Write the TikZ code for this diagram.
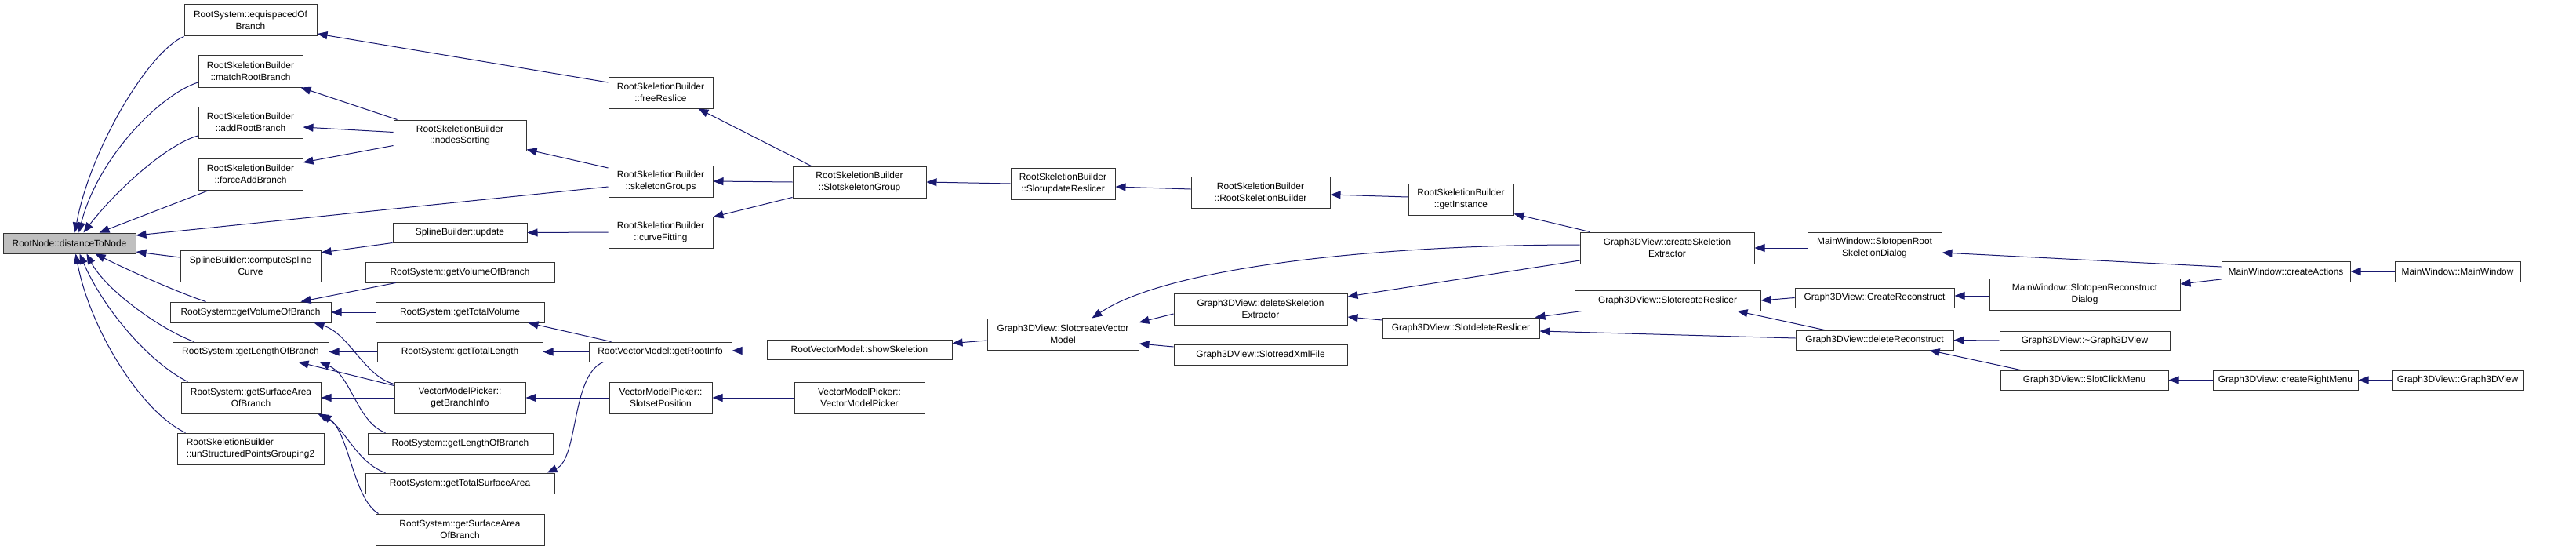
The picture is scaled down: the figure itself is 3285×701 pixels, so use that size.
\documentclass[tikz,border=0pt]{standalone}
\usepackage{fontspec}
\setmainfont{Liberation Sans}
\usetikzlibrary{arrows.meta,calc}
\definecolor{edgeblue}{RGB}{25,25,112}
\definecolor{nodegray}{RGB}{191,191,191}
\tikzset{
  box/.style={draw=black!80, line width=1pt, fill=white, inner sep=0pt, align=center,
    font=\fontsize{11.9}{14.7}\selectfont},
  curbox/.style={box, fill=nodegray},
  lbox/.style={box, align=left},
  edge/.style={draw=edgeblue, line width=1pt, -{Triangle[length=13pt,width=10pt]}},
}
\newcommand{\nd}[7][box]{\node[#1, minimum width={(#5-#3)*1pt}, minimum height={(#6-#4)*1pt}] (#2) at ({(#3+#5)/2},{(#4+#6)/2}) {#7};}
\begin{document}
\begin{tikzpicture}[x=1pt,y=-1pt]
\useasboundingbox (0,0) rectangle (3285,701);
% nodes
\nd[curbox]{dtn}{4}{297}{173}{323}{RootNode::distanceToNode}
\nd{equi}{235}{6}{404}{46}{RootSystem::equispacedOf\\Branch}
\nd{match}{253}{71}{386}{111}{RootSkeletionBuilder\\::matchRootBranch}
\nd{addrb}{253}{136}{386}{176}{RootSkeletionBuilder\\::addRootBranch}
\nd{force}{253}{202}{386}{242}{RootSkeletionBuilder\\::forceAddBranch}
\nd{csc}{230}{319}{409}{359}{SplineBuilder::computeSpline\\Curve}
\nd{gvL}{217}{385}{422}{411}{RootSystem::getVolumeOfBranch}
\nd{glL}{220}{436}{419}{461}{RootSystem::getLengthOfBranch}
\nd{gsL}{231}{487}{409}{527}{RootSystem::getSurfaceArea\\OfBranch}
\nd[lbox]{unstr}{226}{552}{413}{592}{RootSkeletionBuilder\\::unStructuredPointsGrouping2}
\nd{nodes}{502}{153}{671}{192}{RootSkeletionBuilder\\::nodesSorting}
\nd{spup}{501}{284}{672}{309}{SplineBuilder::update}
\nd{gvR}{466}{334}{707}{360}{RootSystem::getVolumeOfBranch}
\nd{gtv}{479}{385}{694}{411}{RootSystem::getTotalVolume}
\nd{gtl}{481}{436}{692}{461}{RootSystem::getTotalLength}
\nd{gbi}{503}{487}{670}{527}{VectorModelPicker::\\getBranchInfo}
\nd{glR}{469}{552}{705}{579}{RootSystem::getLengthOfBranch}
\nd{gtsa}{466}{603}{707}{629}{RootSystem::getTotalSurfaceArea}
\nd{gsR}{479}{655}{694}{695}{RootSystem::getSurfaceArea\\OfBranch}
\nd{free}{776}{98}{909}{138}{RootSkeletionBuilder\\::freeReslice}
\nd{skg}{776}{211}{909}{251}{RootSkeletionBuilder\\::skeletonGroups}
\nd{cfit}{776}{276}{909}{316}{RootSkeletionBuilder\\::curveFitting}
\nd{gri}{751}{436}{933}{461}{RootVectorModel::getRootInfo}
\nd{ssp}{777}{487}{908}{527}{VectorModelPicker::\\SlotsetPosition}
\nd{ssg}{1011}{212}{1181}{252}{RootSkeletionBuilder\\::SlotskeletonGroup}
\nd{show}{978}{433}{1214}{458}{RootVectorModel::showSkeletion}
\nd{vmp}{1013}{487}{1179}{527}{VectorModelPicker::\\VectorModelPicker}
\nd{sur}{1289}{214}{1422}{254}{RootSkeletionBuilder\\::SlotupdateReslicer}
\nd{scvm}{1259}{406}{1452}{446}{Graph3DView::SlotcreateVector\\Model}
\nd{rsb}{1519}{225}{1696}{265}{RootSkeletionBuilder\\::RootSkeletionBuilder}
\nd{dse}{1497}{374}{1718}{414}{Graph3DView::deleteSkeletion\\Extractor}
\nd{srx}{1497}{439}{1718}{465}{Graph3DView::SlotreadXmlFile}
\nd{ginst}{1796}{234}{1930}{274}{RootSkeletionBuilder\\::getInstance}
\nd{sdr}{1763}{405}{1963}{431}{Graph3DView::SlotdeleteReslicer}
\nd{cse}{2015}{296}{2237}{336}{Graph3DView::createSkeletion\\Extractor}
\nd{scr}{2008}{370}{2245}{396}{Graph3DView::SlotcreateReslicer}
\nd{sorsd}{2305}{296}{2476}{336}{MainWindow::SlotopenRoot\\SkeletionDialog}
\nd{cre}{2289}{367}{2492}{392}{Graph3DView::CreateReconstruct}
\nd{dre}{2290}{421}{2491}{446}{Graph3DView::deleteReconstruct}
\nd{sord}{2537}{355}{2780}{395}{MainWindow::SlotopenReconstruct\\Dialog}
\nd{dtor}{2550}{422}{2767}{446}{Graph3DView::\textasciitilde Graph3DView}
\nd{scm}{2551}{472}{2765}{497}{Graph3DView::SlotClickMenu}
\nd{cact}{2833}{333}{2997}{359}{MainWindow::createActions}
\nd{mw}{3054}{333}{3214}{359}{MainWindow::MainWindow}
\nd{crm}{2822}{472}{3007}{497}{Graph3DView::createRightMenu}
\nd{g3d}{3050}{472}{3218}{497}{Graph3DView::Graph3DView}
% edges into distanceToNode
\draw[edge] (equi.south west) .. controls (190,65) and (115,190) .. ($(dtn.north)+(7,0)$);
\draw[edge] ($(match.west)+(0,14)$) .. controls (205,120) and (125,200) .. ($(dtn.north)+(12,0)$);
\draw[edge] ($(addrb.west)+(0,17)$) .. controls (215,183) and (150,240) .. ($(dtn.north)+(18,0)$);
\draw[edge] ($(force.south west)+(14,0)$) -- ($(dtn.north)+(38,0)$);
\draw[edge] ($(skg.west)+(0,7)$) -- ($(dtn.east)+(0,-10)$);
\draw[edge] ($(csc.west)+(0,-11)$) -- ($(dtn.east)+(0,11)$);
\draw[edge] ($(gvL.north west)+(46,0)$) .. controls (225,372) and (165,345) .. ($(dtn.south)+(33,0)$);
\draw[edge] ($(glL.north west)+(28,0)$) .. controls (205,420) and (135,370) .. ($(dtn.south)+(22,0)$);
\draw[edge] ($(gsL.north west)+(9,0)$) .. controls (195,465) and (135,400) .. ($(dtn.south)+(13,0)$);
\draw[edge] ($(unstr.north west)+(11,0)$) .. controls (180,525) and (115,420) .. ($(dtn.south)+(8,0)$);
% second column
\draw[edge] ($(free.west)+(0,-13)$) -- ($(equi.east)+(0,17)$);
\draw[edge] ($(nodes.north west)+(5,0)$) -- ($(match.south east)+(-3,0)$);
\draw[edge] ($(nodes.west)+(0,-4)$) -- ($(addrb.east)+(0,6)$);
\draw[edge] ($(nodes.west)+(0,13)$) -- ($(force.east)+(0,-15)$);
\draw[edge] ($(skg.west)+(0,-17)$) -- ($(nodes.east)+(0,18)$);
\draw[edge] ($(ssg.north west)+(24,0)$) -- ($(free.south east)+(-19,0)$);
\draw[edge] (ssg.west) -- (skg.east);
\draw[edge] ($(ssg.south west)+(0,-1)$) -- ($(cfit.north east)+(0,1)$);
\draw[edge] (cfit.west) -- (spup.east);
\draw[edge] (spup.south west) -- ($(csc.east)+(0,-17)$);
\draw[edge] (gtv.west) -- (gvL.east);
\draw[edge] ($(gvR.south west)+(39,0)$) -- ($(gvL.north east)+(-39,0)$);
\draw[edge] ($(gbi.north west)+(0,3)$) .. controls (465,480) and (445,425) .. ($(gvL.south east)+(-22,0)$);
\draw[edge] (gtl.west) -- (glL.east);
\draw[edge] ($(gbi.north west)+(0,5)$) -- ($(glL.south east)+(-39,0)$);
\draw[edge] ($(glR.north west)+(23,0)$) .. controls (455,538) and (448,478) .. ($(glL.south east)+(-12,0)$);
\draw[edge] (gbi.west) -- (gsL.east);
\draw[edge] ($(gtsa.north west)+(26,0)$) .. controls (455,590) and (440,545) .. ($(gsL.south east)+(-4,0)$);
\draw[edge] ($(gsR.north west)+(4,0)$) .. controls (450,635) and (445,550) .. (gsL.south east);
\draw[edge] ($(gri.north west)+(29,0)$) -- ($(gtv.south east)+(-21,0)$);
\draw[edge] (gri.west) -- (gtl.east);
\draw[edge] ($(gri.south west)+(19,0)$) .. controls (728,478) and (738,585) .. ($(gtsa.north east)+(-10,0)$);
\draw[edge] (ssp.west) -- (gbi.east);
\draw[edge] (vmp.west) -- (ssp.east);
\draw[edge] ($(show.west)+(0,1.5)$) -- ($(gri.east)+(0,-1.5)$);
\draw[edge] ($(scvm.west)+(0,8)$) -- ($(show.east)+(0,-8)$);
\draw[edge] ($(cse.west)+(0,-4)$) .. controls (1760,312) and (1490,340) .. ($(scvm.north)+(37,0)$);
\draw[edge] ($(dse.west)+(0,6)$) -- ($(scvm.east)+(0,-15)$);
\draw[edge] ($(srx.west)+(0,-10)$) -- ($(scvm.east)+(0,12)$);
\draw[edge] (sur.west) -- (ssg.east);
\draw[edge] ($(rsb.west)+(0,-4)$) -- ($(sur.east)+(0,4)$);
\draw[edge] ($(ginst.west)+(0,-3)$) -- ($(rsb.east)+(0,3)$);
\draw[edge] ($(cse.north west)+(13,0)$) -- ($(ginst.south east)+(0,-2)$);
\draw[edge] ($(cse.west)+(0,16)$) -- ($(dse.east)+(0,-16)$);
\draw[edge] ($(sdr.west)+(0,-10)$) -- ($(dse.east)+(0,10)$);
\draw[edge] ($(scr.south west)+(10,0)$) -- ($(sdr.north east)+(-6,0)$);
\draw[edge] ($(dre.west)+(0,-2.5)$) -- ($(sdr.east)+(0,4)$);
\draw[edge] (cre.west) -- (scr.east);
\draw[edge] ($(dre.north west)+(37,0)$) -- ($(scr.south east)+(-30,0)$);
\draw[edge] (sorsd.west) -- (cse.east);
\draw[edge] ($(cact.west)+(0,-6)$) -- ($(sorsd.east)+(0,6)$);
\draw[edge] ($(sord.west)+(0,2)$) -- ($(cre.east)+(0,-2.5)$);
\draw[edge] ($(cact.west)+(0,10)$) -- ($(sord.east)+(0,-13)$);
\draw[edge] (mw.west) -- (cact.east);
\draw[edge] (dtor.west) -- (dre.east);
\draw[edge] ($(scm.north west)+(26,0)$) -- ($(dre.south east)+(-31,0)$);
\draw[edge] (crm.west) -- (scm.east);
\draw[edge] (g3d.west) -- (crm.east);
\end{tikzpicture}
\end{document}
